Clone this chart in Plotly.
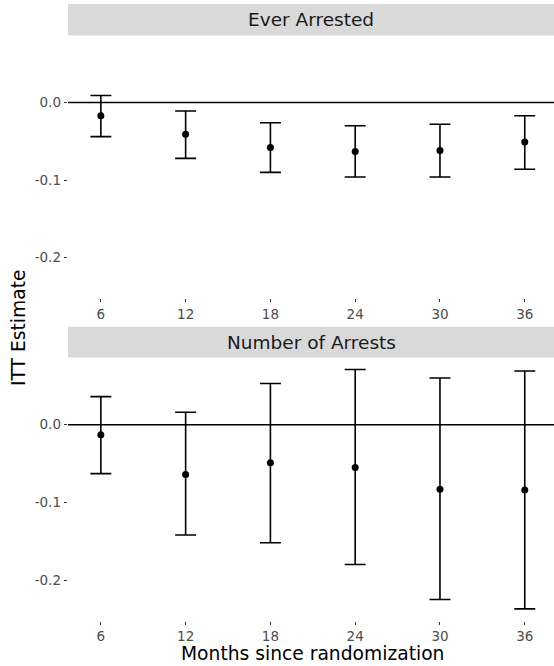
import plotly.graph_objects as go

months = [6, 12, 18, 24, 30, 36]
month_labels = ["6", "12", "18", "24", "30", "36"]

ever_est = [-0.017, -0.041, -0.058, -0.063, -0.062, -0.051]
ever_lo = [-0.044, -0.072, -0.090, -0.096, -0.096, -0.086]
ever_hi = [0.009, -0.011, -0.026, -0.030, -0.028, -0.017]

num_est = [-0.013, -0.064, -0.049, -0.055, -0.083, -0.084]
num_lo = [-0.063, -0.142, -0.152, -0.180, -0.225, -0.237]
num_hi = [0.036, 0.016, 0.053, 0.071, 0.060, 0.069]

panel_titles = ["Ever Arrested", "Number of Arrests"]
y_tickvals = [-0.2, -0.1, 0.0]
y_ticktext = ["-0.2", "-0.1", "0.0"]
ref_value = 0.0

W, H = 554, 666
L = 68
FONT = "DejaVu Sans"

def py(p):
    return (H - p) / H

fig = go.Figure()

series = [(ever_est, ever_lo, ever_hi), (num_est, num_lo, num_hi)]
for i, (est, lo, hi) in enumerate(series):
    ax = "" if i == 0 else str(i + 1)
    fig.add_trace(go.Scatter(
        x=months, y=est, mode="markers",
        marker=dict(color="black", size=7),
        error_y=dict(type="data", symmetric=False,
                     array=[h - e for h, e in zip(hi, est)],
                     arrayminus=[e - l for e, l in zip(est, lo)],
                     color="black", thickness=1.6, width=10.5),
        xaxis="x" + ax, yaxis="y" + ax, showlegend=False,
        hoverinfo="skip"))

panels = [(35.5, 298.0, 4.0, 35.5), (357.5, 620.5, 326.7, 357.5)]
xr = [3.675, 38.07]
yr = [-0.252, 0.0864]

layout = dict(
    width=W, height=H,
    margin=dict(l=L, r=0, t=0, b=0),
    paper_bgcolor="white", plot_bgcolor="white",
    font=dict(family=FONT, color="#4D4D4D"),
    shapes=[], annotations=[],
)

for i, (ptop, pbot, stop, sbot) in enumerate(panels):
    ax = "" if i == 0 else str(i + 1)
    layout["xaxis" + ax] = dict(
        domain=[0, 1], range=xr, anchor="y" + ax,
        tickvals=months, ticktext=month_labels,
        ticks="outside", ticklen=3.3, tickwidth=1, tickcolor="#333333",
        tickfont=dict(size=13.5, color="#4D4D4D", family=FONT),
        showgrid=False, zeroline=False, showline=False)
    layout["yaxis" + ax] = dict(
        domain=[py(pbot), py(ptop)], range=yr, anchor="x" + ax,
        tickvals=y_tickvals, ticktext=y_ticktext,
        ticks="outside", ticklen=3.3, tickwidth=1, tickcolor="#333333",
        tickfont=dict(size=13.5, color="#4D4D4D", family=FONT),
        showgrid=False, zeroline=False, showline=False)
    # strip
    layout["shapes"].append(dict(
        type="rect", xref="paper", yref="paper",
        x0=0, x1=1, y0=py(sbot), y1=py(stop),
        fillcolor="#D9D9D9", line=dict(width=0), layer="below"))
    layout["annotations"].append(dict(
        text=panel_titles[i], xref="paper", yref="paper",
        x=0.5, y=(py(sbot) + py(stop)) / 2, xanchor="center", yanchor="middle",
        showarrow=False, font=dict(size=18.5, color="#1A1A1A", family=FONT)))
    # reference line at zero
    layout["shapes"].append(dict(
        type="line", xref="x" + ax + " domain", yref="y" + ax,
        x0=0, x1=1, y0=ref_value, y1=ref_value,
        line=dict(color="black", width=1.5), layer="below"))

layout["annotations"].append(dict(
    text="ITT Estimate", xref="paper", yref="paper",
    x=(18 - L) / (W - L), y=py(328), xanchor="center", yanchor="middle",
    textangle=-90, showarrow=False,
    font=dict(size=18.7, color="black", family=FONT)))
layout["annotations"].append(dict(
    text="Months since randomization", xref="paper", yref="paper",
    x=(312 - L) / (W - L), y=py(653), xanchor="center", yanchor="middle",
    showarrow=False, font=dict(size=18.7, color="black", family=FONT)))

fig.update_layout(**layout)
fig.write_html("out.html")
